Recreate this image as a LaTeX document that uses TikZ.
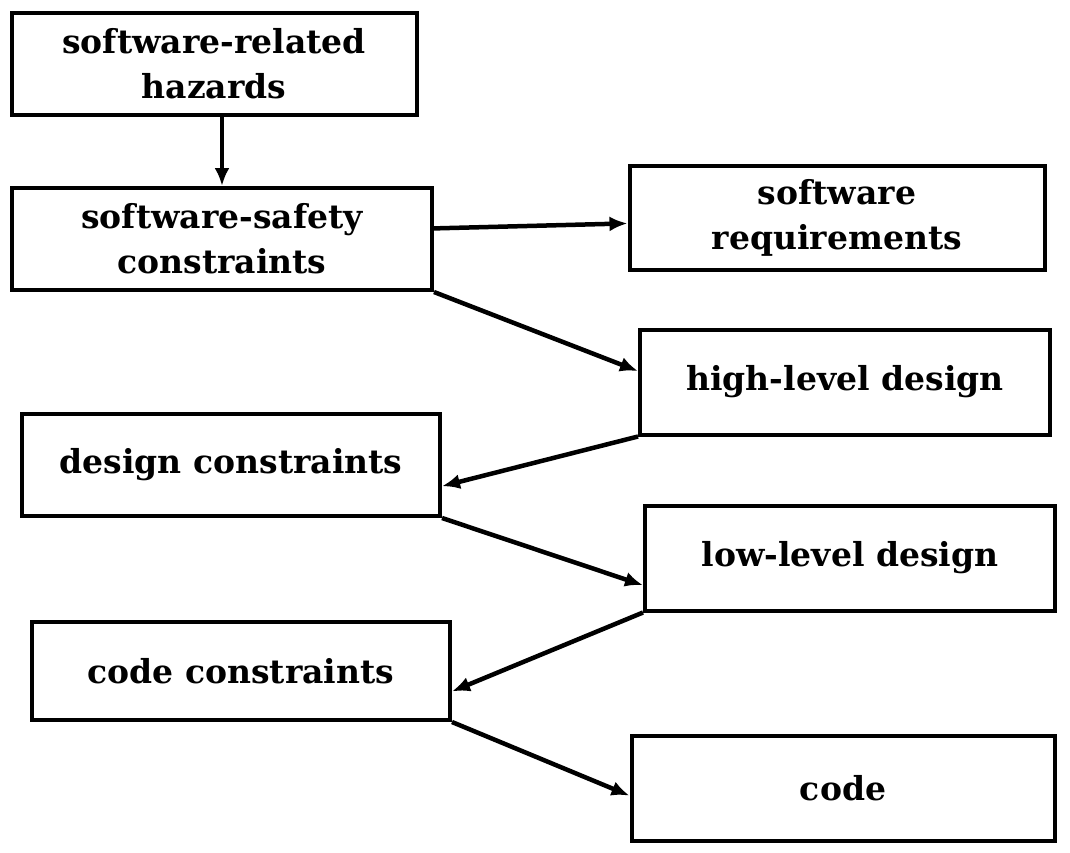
\documentclass[tikz,border=0pt]{standalone}
\usepackage{fontspec}
\setmainfont{DejaVu Serif}
\usetikzlibrary{arrows.meta,calc}
\begin{document}
\begin{tikzpicture}[x=1pt,y=-1pt,
  box/.style={draw, line width=4pt, rectangle, align=center, inner sep=0pt,
    font=\fontsize{33}{45}\selectfont\bfseries},
  conn/.style={line width=4.5pt, -{Latex[length=18pt,width=15pt]}}]
\useasboundingbox (0,0) rectangle (1070,852);
\node[box, minimum width=405pt, minimum height=102pt] (b1) at (214,64) {software-related\\hazards};
\node[box, minimum width=420pt, minimum height=102pt] (b2) at (222,239) {software-safety\\constraints};
\node[box, minimum width=415pt, minimum height=104pt] (b3) at (837,218) {software\\requirements};
\node[box, minimum width=410pt, minimum height=105pt] (b4) at (845,382) {high-level design};
\node[box, minimum width=418pt, minimum height=102pt] (b5) at (231,465) {design constraints};
\node[box, minimum width=410pt, minimum height=105pt] (b6) at (850,558) {low-level design};
\node[box, minimum width=418pt, minimum height=98pt] (b7) at (241,671) {code constraints};
\node[box, minimum width=423pt, minimum height=105pt] (b8) at (843,788) {code};
\draw[conn] (b1.south -| b2.north) -- (b2.north);
\draw[conn] ($(b2.north east)!0.4!(b2.south east)$) -- ($(b3.north west)!0.55!(b3.south west)$);
\draw[conn] (b2.south east) -- ($(b4.north west)!0.4!(b4.south west)$);
\draw[conn] (b4.south west) -- ($(b5.north east)!0.7!(b5.south east)$);
\draw[conn] (b5.south east) -- ($(b6.north west)!0.75!(b6.south west)$);
\draw[conn] (b6.south west) -- ($(b7.north east)!0.7!(b7.south east)$);
\draw[conn] (b7.south east) -- ($(b8.north west)!0.57!(b8.south west)$);
\end{tikzpicture}
\end{document}
